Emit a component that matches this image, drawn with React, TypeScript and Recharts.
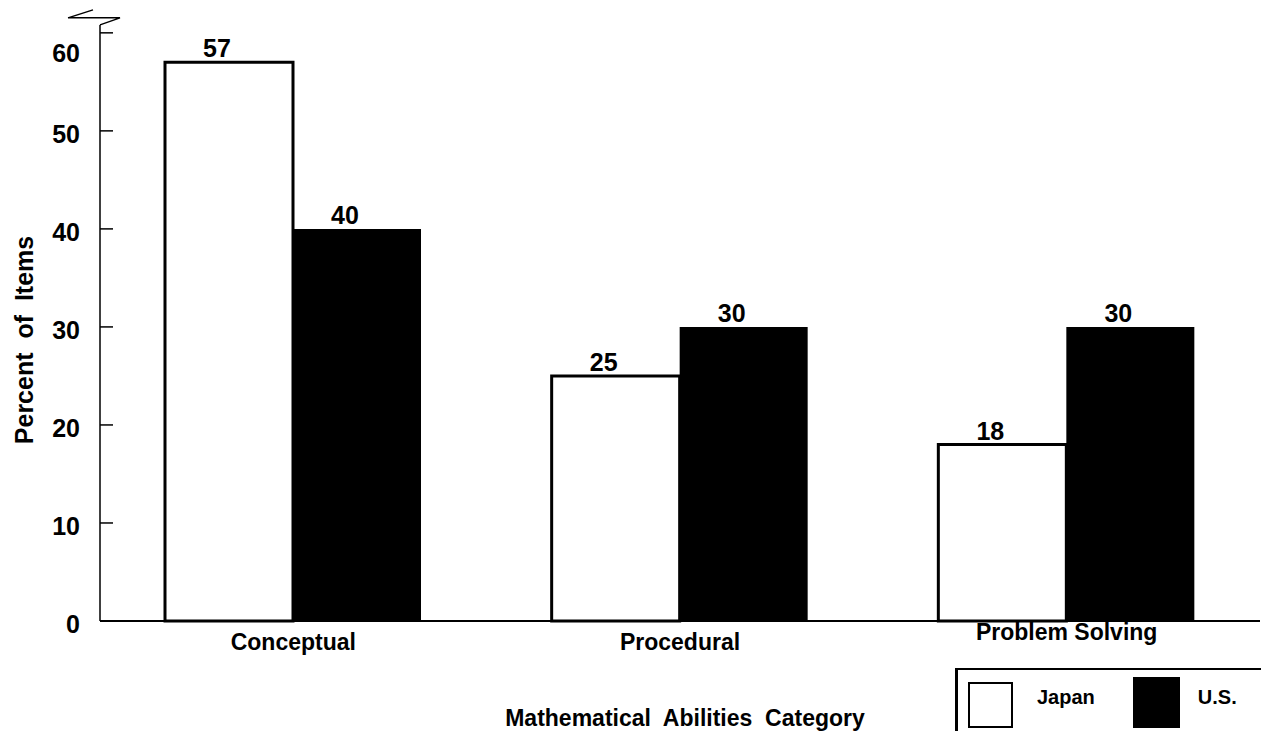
import { BarChart, Bar, XAxis, YAxis, LabelList, Legend } from "recharts";

const CATEGORIES = ["Conceptual", "Procedural", "Problem Solving"];
const JAPAN = [57, 25, 18];
const US = [40, 30, 30];
const Y_TICKS = [0, 10, 20, 30, 40, 50, 60];
const SERIES = ["Japan", "U.S."];

const FONT = '"Liberation Sans", Arial, Helvetica, sans-serif';
const INK = "#000";

const data = CATEGORIES.map((name, i) => ({ name, japan: JAPAN[i], us: US[i] }));

/* y ticks point inward, top label sits lower, with the axis break above it */
function YTick(props: any) {
  const { x, y, payload, index } = props;
  const isTop = index === Y_TICKS.length - 1;
  return (
    <g>
      {payload.value !== 0 && (
        <line x1={x} y1={y} x2={x + 13} y2={y} stroke={INK} strokeWidth={1.5} />
      )}
      <text
        x={x - 20}
        y={y + (isTop ? 20 : 3)}
        dy="0.35em"
        textAnchor="end"
        fontFamily={FONT}
        fontWeight="bold"
        fontSize={25}
        fill={INK}
      >
        {payload.value}
      </text>
      {isTop && (
        <path
          d={`M${x - 32},${y - 15} L${x - 7},${y - 23} M${x - 32},${y - 15} L${x + 20},${y - 15} L${x},${y - 8}`}
          stroke={INK}
          strokeWidth={1.5}
          fill="none"
        />
      )}
    </g>
  );
}

function XTick(props: any) {
  const { x, y, payload, index } = props;
  const lift = index === CATEGORIES.length - 1 ? 10 : 0;
  return (
    <text
      x={x}
      y={y + 29 - lift}
      textAnchor="middle"
      fontFamily={FONT}
      fontWeight="bold"
      fontSize={23}
      fill={INK}
    >
      {payload.value}
    </text>
  );
}

function BarValue(props: any) {
  const { x, y, width, value } = props;
  return (
    <text
      x={x + width / 2 - 12}
      y={y - 5}
      textAnchor="middle"
      fontFamily={FONT}
      fontWeight="bold"
      fontSize={25}
      fill={INK}
    >
      {value}
    </text>
  );
}

function YTitle({ viewBox }: any) {
  const cx = viewBox.x + 24;
  const cy = viewBox.y + viewBox.height / 2 + 17;
  return (
    <text
      x={cx}
      y={cy}
      transform={`rotate(-90 ${cx} ${cy})`}
      textAnchor="middle"
      dominantBaseline="central"
      fontFamily={FONT}
      fontWeight="bold"
      fontSize={25}
      fill={INK}
      style={{ whiteSpace: "pre" }}
    >
      {"Percent  of  Items"}
    </text>
  );
}

function XTitle({ viewBox }: any) {
  return (
    <text
      x={viewBox.x + viewBox.width / 2 + 5}
      y={viewBox.y + viewBox.height - 5}
      textAnchor="middle"
      fontFamily={FONT}
      fontWeight="bold"
      fontSize={23}
      fill={INK}
      style={{ whiteSpace: "pre" }}
    >
      {"Mathematical  Abilities  Category"}
    </text>
  );
}

function LegendBox() {
  const swatch = (filled: boolean, mt: number, w: number, h: number) => ({
    marginTop: mt,
    width: w,
    height: h,
    boxSizing: "border-box" as const,
    border: `2px solid ${INK}`,
    background: filled ? INK : "#fff",
  });
  const label = (ml: number) => ({
    marginLeft: ml,
    marginTop: 16,
    fontFamily: FONT,
    fontWeight: "bold" as const,
    fontSize: 20,
    lineHeight: "23px",
    color: INK,
  });
  return (
    <div
      style={{
        width: 306,
        height: 63,
        boxSizing: "border-box",
        borderTop: `2px solid ${INK}`,
        borderLeft: `3px solid ${INK}`,
        display: "flex",
        alignItems: "flex-start",
        paddingLeft: 10,
      }}
    >
      <div style={swatch(false, 12, 45, 46)} />
      <div style={label(24)}>{SERIES[0]}</div>
      <div style={{ ...swatch(true, 7, 47, 51), marginLeft: 38 }} />
      <div style={label(18)}>{SERIES[1]}</div>
    </div>
  );
}

export default function App() {
  return (
    <div
      style={{
        position: "absolute",
        left: 0,
        top: 0,
        width: 1261,
        height: 731,
        background: "#fff",
        overflow: "hidden",
      }}
    >
      <BarChart
        width={1261}
        height={731}
        data={data}
        margin={{ top: 25, right: 1, bottom: 0, left: 0 }}
        barGap={0}
      >
        <XAxis
          dataKey="name"
          height={110}
          axisLine={{ stroke: INK, strokeWidth: 2 }}
          tickLine={false}
          tickSize={0}
          tickMargin={0}
          interval={0}
          tick={<XTick />}
          label={(p: any) => <XTitle {...p} />}
        />
        <YAxis
          width={100}
          domain={[0, 60.8]}
          ticks={Y_TICKS}
          interval={0}
          axisLine={{ stroke: INK, strokeWidth: 1.5 }}
          tickLine={false}
          tickSize={0}
          tickMargin={0}
          tick={<YTick />}
          label={(p: any) => <YTitle {...p} />}
        />
        <Legend
          layout="horizontal"
          verticalAlign="middle"
          align="center"
          content={() => <LegendBox />}
          wrapperStyle={{ left: 955, top: 668, width: 306, height: 63 }}
        />
        <Bar
          dataKey="japan"
          name={SERIES[0]}
          fill="#fff"
          stroke={INK}
          strokeWidth={3}
          barSize={128}
          isAnimationActive={false}
        >
          <LabelList dataKey="japan" content={<BarValue />} />
        </Bar>
        <Bar
          dataKey="us"
          name={SERIES[1]}
          fill={INK}
          barSize={128}
          isAnimationActive={false}
        >
          <LabelList dataKey="us" content={<BarValue />} />
        </Bar>
      </BarChart>
    </div>
  );
}
